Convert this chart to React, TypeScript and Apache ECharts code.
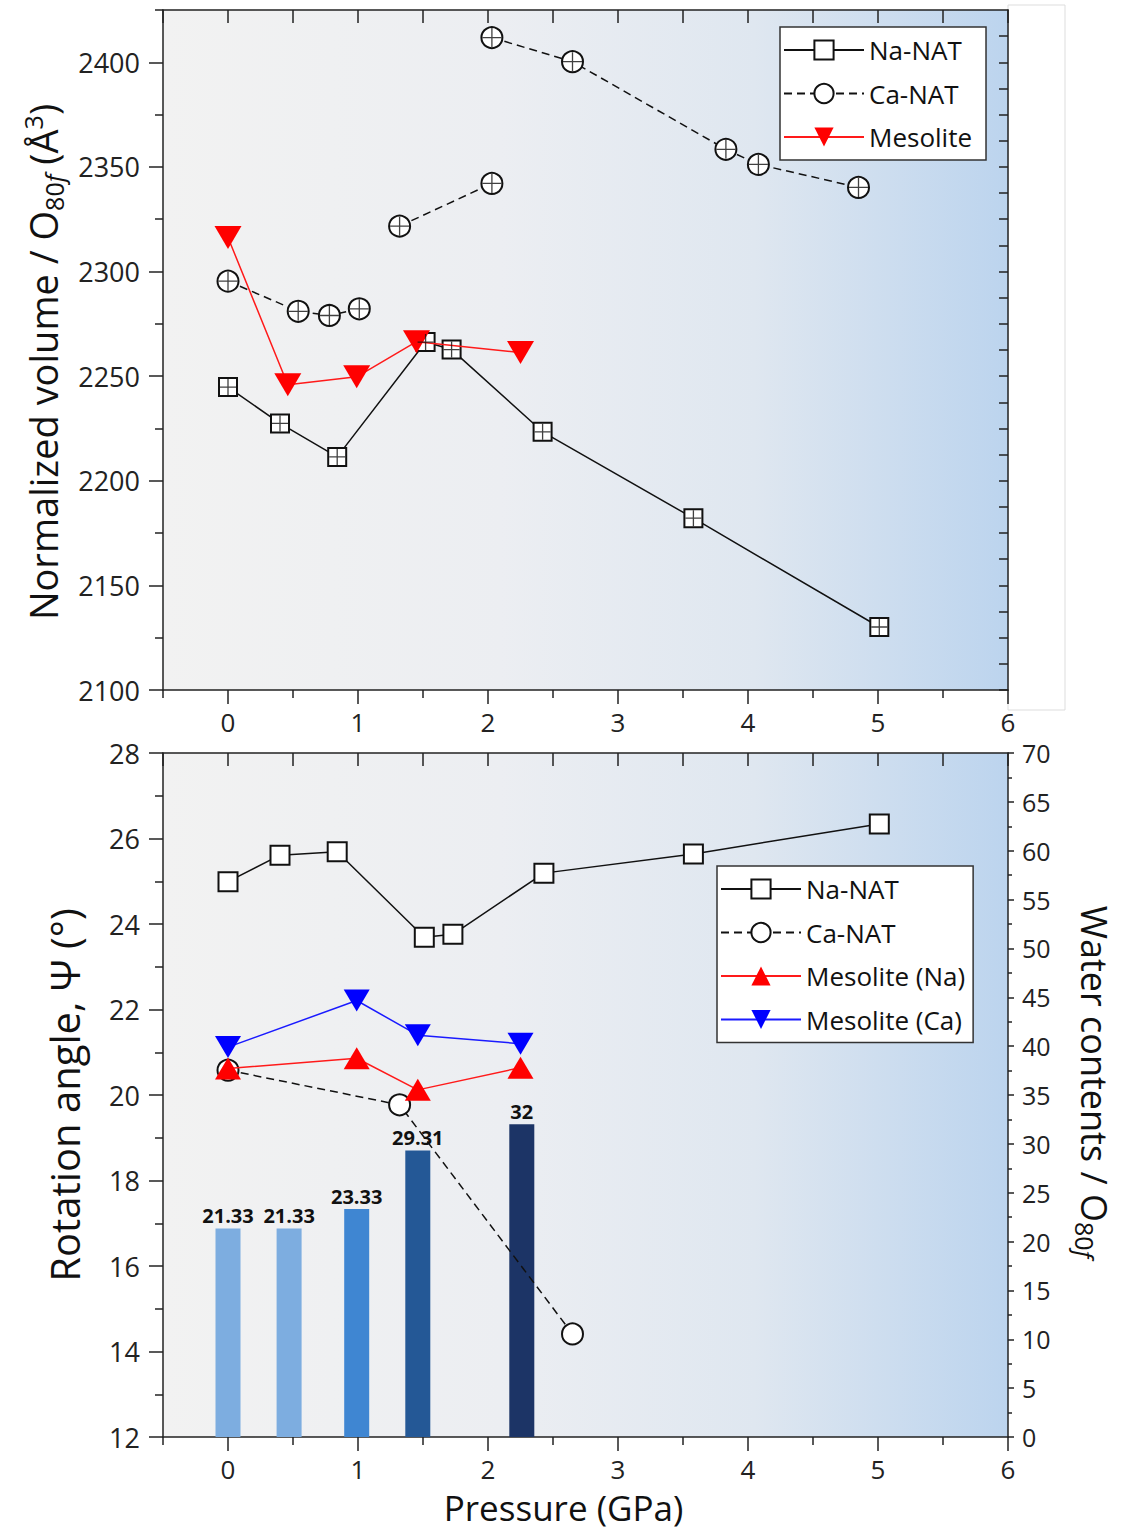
import React, { useEffect, useRef } from "react";
import * as echarts from "echarts";

// ---- Top panel: normalized volume / O80f (Å^3) ----
const TOP_NA_P = [0, 0.4, 0.84, 1.52, 1.72, 2.42, 3.58, 5.01];
const TOP_NA_V = [2244.8, 2227.4, 2211.4, 2266.3, 2262.7, 2223.4, 2182.1, 2130.1];

const TOP_CA1_P = [0, 0.54, 0.78, 1.01];
const TOP_CA1_V = [2295.4, 2281.0, 2279.0, 2282.2];
const TOP_CA2_P = [1.32, 2.03];
const TOP_CA2_V = [2321.7, 2342.1];
const TOP_CA3_P = [2.03, 2.65, 3.83, 4.08, 4.85];
const TOP_CA3_V = [2411.8, 2400.3, 2358.4, 2351.2, 2340.2];

const TOP_MES_P = [0, 0.46, 0.99, 1.45, 2.25];
const TOP_MES_V = [2316.3, 2245.9, 2249.7, 2266.5, 2261.3];

// ---- Bottom panel: rotation angle (°) and water contents ----
const BOT_NA_P = [0, 0.4, 0.84, 1.51, 1.73, 2.43, 3.58, 5.01];
const BOT_NA_V = [24.99, 25.61, 25.69, 23.69, 23.76, 25.19, 25.64, 26.34];

const BOT_CA_P = [0, 1.32, 2.65];
const BOT_CA_V = [20.58, 19.77, 14.41];

const BOT_MESNA_P = [0, 0.99, 1.46, 2.25];
const BOT_MESNA_V = [20.62, 20.86, 20.12, 20.64];

const BOT_MESCA_P = [0, 0.99, 1.46, 2.25];
const BOT_MESCA_V = [21.12, 22.21, 21.4, 21.2];

const WATER_P = [0, 0.47, 0.99, 1.46, 2.26];
const WATER_V = [21.33, 21.33, 23.33, 29.31, 32];
const WATER_COLORS = ["#7dade0", "#7dade0", "#3f86d2", "#245896", "#1c3466"];

// ---- ticks ----
const X_MAJOR = [0, 1, 2, 3, 4, 5, 6];
const X_MINOR = [-0.5, 0.5, 1.5, 2.5, 3.5, 4.5, 5.5];
const X_ALL = [-0.5, 0, 0.5, 1, 1.5, 2, 2.5, 3, 3.5, 4, 4.5, 5, 5.5, 6];
const TOP_Y_MAJOR = [2100, 2150, 2200, 2250, 2300, 2350, 2400];
const TOP_Y_MINOR = [2125, 2175, 2225, 2275, 2325, 2375, 2425];
const TOP_Y_RIGHT = [2100, 2112.5, 2125, 2137.5, 2150, 2162.5, 2175, 2187.5, 2200, 2212.5, 2225, 2237.5, 2250, 2262.5, 2275, 2287.5, 2300, 2312.5, 2325, 2337.5, 2350, 2362.5, 2375, 2387.5, 2400, 2412.5];

const zip = (a: number[], b: number[]) => a.map((x, i) => [x, b[i]]);

const FONT = "Open Sans";
const AX = "#222";

const richName = {
  sub: { fontSize: 25, lineHeight: 25, verticalAlign: "bottom", fontFamily: FONT, color: "#111" },
  subi: { fontSize: 25, lineHeight: 25, verticalAlign: "bottom", fontFamily: FONT, color: "#111", fontStyle: "italic" },
  sup: { fontSize: 25, lineHeight: 25, verticalAlign: "top", fontFamily: FONT, color: "#111" },
};

const bgGradient = () =>
  new echarts.graphic.LinearGradient(0, 0, 1, 0, [
    { offset: 0, color: "#f2f2f2" },
    { offset: 0.4, color: "#eceef2" },
    { offset: 0.7, color: "#dfe7f0" },
    { offset: 1, color: "#bcd4ee" },
  ]);

const CROSS = "path://M10,0L10,20M0,10L20,10";

export default function App() {
  const ref = useRef<HTMLDivElement>(null);

  useEffect(() => {
    if (!ref.current) return;
    const chart = echarts.init(ref.current, undefined, { renderer: "svg" });

    const xMain = (gridIndex: number, labels: boolean, name?: string) => ({
      type: "value",
      gridIndex,
      min: -0.5,
      max: 6,
      position: "bottom",
      name,
      nameLocation: "middle",
      nameGap: 53,
      nameTextStyle: { fontSize: 35, color: "#111", fontFamily: FONT, padding: [0, 44, 0, 0] },
      axisLine: { show: true, onZero: false, lineStyle: { color: AX, width: 1.5 } },
      axisTick: { show: true, inside: false, length: 14, customValues: X_MAJOR, lineStyle: { color: AX, width: 1.5 } },
      axisLabel: { show: labels, customValues: X_MAJOR, fontSize: 26, color: "#222", margin: 19, fontFamily: FONT },
      splitLine: { show: false },
    });
    const xMinor = (gridIndex: number) => ({
      type: "value",
      gridIndex,
      min: -0.5,
      max: 6,
      position: "bottom",
      axisLine: { show: false, onZero: false },
      axisTick: { show: true, inside: false, length: 8, customValues: X_MINOR, lineStyle: { color: AX, width: 1.5 } },
      axisLabel: { show: false },
      splitLine: { show: false },
    });
    const xTop = (gridIndex: number) => ({
      type: "value",
      gridIndex,
      min: -0.5,
      max: 6,
      position: "top",
      axisLine: { show: true, onZero: false, lineStyle: { color: AX, width: 1.5 } },
      axisTick: { show: true, inside: true, length: 13, customValues: X_ALL, lineStyle: { color: AX, width: 1.5 } },
      axisLabel: { show: false },
      splitLine: { show: false },
    });

    const option: any = {
      animation: false,
      textStyle: { fontFamily: FONT },
      graphic: [
        {
          type: "rect",
          z: -10,
          shape: { x: 1008, y: 5, width: 57, height: 705 },
          style: { fill: "#ffffff", stroke: "#dddddd", lineWidth: 1 },
        },
      ],
      grid: [
        { left: 163, top: 10, width: 845, height: 680, show: true, backgroundColor: bgGradient(), borderWidth: 0 },
        { left: 163, top: 753, width: 845, height: 684, show: true, backgroundColor: bgGradient(), borderWidth: 0 },
      ],
      xAxis: [
        xMain(0, true), // 0
        xMinor(0), // 1
        xTop(0), // 2
        xMain(1, true, "Pressure (GPa)"), // 3
        xMinor(1), // 4
        xTop(1), // 5
      ],
      yAxis: [
        {
          // 0 top left
          type: "value",
          gridIndex: 0,
          min: 2100,
          max: 2425,
          position: "left",
          name: "Normalized volume / O{sub|80}{subi|f} (Å{sup|3})",
          nameLocation: "middle",
          nameGap: 97,
          nameTextStyle: { fontSize: 38, lineHeight: 46, color: "#111", fontFamily: FONT, rich: richName, padding: [0, 24, 0, 0] },
          axisLine: { show: true, onZero: false, lineStyle: { color: AX, width: 1.5 } },
          axisTick: { show: true, inside: false, length: 14, customValues: TOP_Y_MAJOR, lineStyle: { color: AX, width: 1.5 } },
          axisLabel: { customValues: TOP_Y_MAJOR, fontSize: 27, color: "#222", margin: 23, fontFamily: FONT, formatter: (v: number) => String(v) },
          splitLine: { show: false },
        },
        {
          // 1 top left minor
          type: "value",
          gridIndex: 0,
          min: 2100,
          max: 2425,
          position: "left",
          axisLine: { show: false, onZero: false },
          axisTick: { show: true, inside: false, length: 8, customValues: TOP_Y_MINOR, lineStyle: { color: AX, width: 1.5 } },
          axisLabel: { show: false },
          splitLine: { show: false },
        },
        {
          // 2 top right
          type: "value",
          gridIndex: 0,
          min: 2100,
          max: 2425,
          position: "right",
          axisLine: { show: true, onZero: false, lineStyle: { color: AX, width: 1.5 } },
          axisTick: { show: true, inside: true, length: 9, customValues: TOP_Y_RIGHT, lineStyle: { color: AX, width: 1.5 } },
          axisLabel: { show: false },
          splitLine: { show: false },
        },
        {
          // 3 bottom left
          type: "value",
          gridIndex: 1,
          min: 12,
          max: 28,
          interval: 2,
          position: "left",
          name: "Rotation angle, Ψ (°)",
          nameLocation: "middle",
          nameGap: 79,
          nameTextStyle: { fontSize: 40, color: "#111", fontFamily: FONT },
          axisLine: { show: true, onZero: false, lineStyle: { color: AX, width: 1.5 } },
          axisTick: { show: true, inside: false, length: 14, lineStyle: { color: AX, width: 1.5 } },
          minorTick: { show: true, splitNumber: 2, length: 8, lineStyle: { color: AX, width: 1.5 } },
          axisLabel: { fontSize: 27, color: "#222", margin: 23, fontFamily: FONT },
          splitLine: { show: false },
        },
        {
          // 4 bottom right
          type: "value",
          gridIndex: 1,
          min: 0,
          max: 70,
          interval: 5,
          position: "right",
          name: "Water contents / O{sub|80}{subi|f}",
          nameLocation: "middle",
          nameRotate: -90,
          nameGap: 64,
          nameTextStyle: { fontSize: 36, lineHeight: 44, color: "#111", fontFamily: FONT, rich: richName, padding: [0, 26, 0, 0] },
          axisLine: { show: true, onZero: false, lineStyle: { color: AX, width: 1.5 } },
          axisTick: { show: true, inside: false, length: 6, lineStyle: { color: AX, width: 1.5 } },
          minorTick: { show: true, splitNumber: 2, length: 4, lineStyle: { color: AX, width: 1.5 } },
          axisLabel: { fontSize: 25, color: "#222", margin: 14, fontFamily: FONT },
          splitLine: { show: false },
        },
      ],
      legend: [
        {
          data: ["Na-NAT", "Ca-NAT", "Mesolite"],
          orient: "vertical",
          left: 780,
          top: 27,
          itemWidth: 80,
          itemHeight: 24,
          itemGap: 17.5,
          padding: [10, 14, 10, 3],
          backgroundColor: "#ffffff",
          borderColor: "#333",
          borderWidth: 1.5,
          borderRadius: 0,
          textStyle: { fontSize: 26, color: "#111", fontFamily: FONT },
        },
        {
          data: ["Na-NAT", "Ca-NAT", "Mesolite (Na)", "Mesolite (Ca)"],
          orient: "vertical",
          left: 717,
          top: 866,
          itemWidth: 80,
          itemHeight: 24,
          itemGap: 17.5,
          padding: [10, 8, 10, 3],
          backgroundColor: "#ffffff",
          borderColor: "#333",
          borderWidth: 1.5,
          borderRadius: 0,
          textStyle: { fontSize: 26, color: "#111", fontFamily: FONT },
        },
      ],
      series: [
        // ---------- top panel ----------
        {
          name: "Na-NAT",
          type: "line",
          xAxisIndex: 0,
          yAxisIndex: 0,
          data: zip(TOP_NA_P, TOP_NA_V),
          symbol: "emptyRect",
          symbolSize: 18,
          itemStyle: { color: "#111", borderWidth: 1.5 },
          lineStyle: { color: "#111", width: 1.5 },
          z: 3,
        },
        {
          name: "Ca-NAT",
          type: "line",
          xAxisIndex: 0,
          yAxisIndex: 0,
          data: zip(TOP_CA1_P, TOP_CA1_V),
          symbol: "emptyCircle",
          symbolSize: 21,
          itemStyle: { color: "#111", borderWidth: 1.5 },
          lineStyle: { color: "#111", width: 1.5, type: [8, 5] },
          z: 3,
        },
        {
          name: "Ca-NAT",
          type: "line",
          xAxisIndex: 0,
          yAxisIndex: 0,
          data: zip(TOP_CA2_P, TOP_CA2_V),
          symbol: "emptyCircle",
          symbolSize: 21,
          itemStyle: { color: "#111", borderWidth: 1.5 },
          lineStyle: { color: "#111", width: 1.5, type: [8, 5] },
          z: 3,
        },
        {
          name: "Ca-NAT",
          type: "line",
          xAxisIndex: 0,
          yAxisIndex: 0,
          data: zip(TOP_CA3_P, TOP_CA3_V),
          symbol: "emptyCircle",
          symbolSize: 21,
          itemStyle: { color: "#111", borderWidth: 1.5 },
          lineStyle: { color: "#111", width: 1.5, type: [8, 5] },
          z: 3,
        },
        {
          name: "Mesolite",
          type: "line",
          xAxisIndex: 0,
          yAxisIndex: 0,
          data: zip(TOP_MES_P, TOP_MES_V),
          symbol: "triangle",
          symbolRotate: 180,
          symbolSize: [27, 23],
          itemStyle: { color: "#ff0000" },
          lineStyle: { color: "#ff1a1a", width: 1.5 },
          z: 4,
        },
        {
          name: "crossSq",
          type: "scatter",
          xAxisIndex: 0,
          yAxisIndex: 0,
          data: zip(TOP_NA_P, TOP_NA_V),
          symbol: CROSS,
          symbolSize: 16,
          silent: true,
          itemStyle: { color: "none", borderColor: "#111", borderWidth: 1.3 },
          z: 5,
        },
        {
          name: "crossCi",
          type: "scatter",
          xAxisIndex: 0,
          yAxisIndex: 0,
          data: [...zip(TOP_CA1_P, TOP_CA1_V), ...zip(TOP_CA2_P, TOP_CA2_V), ...zip(TOP_CA3_P, TOP_CA3_V)],
          symbol: CROSS,
          symbolSize: 19,
          silent: true,
          itemStyle: { color: "none", borderColor: "#111", borderWidth: 1.3 },
          z: 5,
        },
        // ---------- bottom panel ----------
        {
          name: "Water",
          type: "bar",
          xAxisIndex: 3,
          yAxisIndex: 4,
          barWidth: 25,
          data: WATER_P.map((p, i) => ({ value: [p, WATER_V[i]], itemStyle: { color: WATER_COLORS[i] } })),
          label: {
            show: true,
            position: "top",
            distance: 3,
            fontSize: 20,
            fontWeight: "bold",
            color: "#111",
            fontFamily: FONT,
            formatter: (p: any) => String(WATER_V[p.dataIndex]),
          },
          z: 1,
        },
        {
          name: "Na-NAT",
          type: "line",
          xAxisIndex: 3,
          yAxisIndex: 3,
          data: zip(BOT_NA_P, BOT_NA_V),
          symbol: "emptyRect",
          symbolSize: 19,
          itemStyle: { color: "#111", borderWidth: 1.5 },
          lineStyle: { color: "#111", width: 1.5 },
          z: 3,
        },
        {
          name: "Ca-NAT",
          type: "line",
          xAxisIndex: 3,
          yAxisIndex: 3,
          data: zip(BOT_CA_P, BOT_CA_V),
          symbol: "emptyCircle",
          symbolSize: 21,
          itemStyle: { color: "#111", borderWidth: 1.5 },
          lineStyle: { color: "#111", width: 1.5, type: [8, 5] },
          z: 3,
        },
        {
          name: "Mesolite (Na)",
          type: "line",
          xAxisIndex: 3,
          yAxisIndex: 3,
          data: zip(BOT_MESNA_P, BOT_MESNA_V),
          symbol: "triangle",
          symbolSize: [26, 22],
          itemStyle: { color: "#ff0000" },
          lineStyle: { color: "#ff1a1a", width: 1.5 },
          z: 4,
        },
        {
          name: "Mesolite (Ca)",
          type: "line",
          xAxisIndex: 3,
          yAxisIndex: 3,
          data: zip(BOT_MESCA_P, BOT_MESCA_V),
          symbol: "triangle",
          symbolRotate: 180,
          symbolSize: [26, 22],
          itemStyle: { color: "#0000ff" },
          lineStyle: { color: "#1a1aff", width: 1.5 },
          z: 4,
        },
      ],
    };

    chart.setOption(option);
    return () => chart.dispose();
  }, []);

  return (
    <div
      ref={ref}
      style={{ position: "absolute", left: 0, top: 0, width: 1126, height: 1533, background: "#ffffff" }}
    />
  );
}
